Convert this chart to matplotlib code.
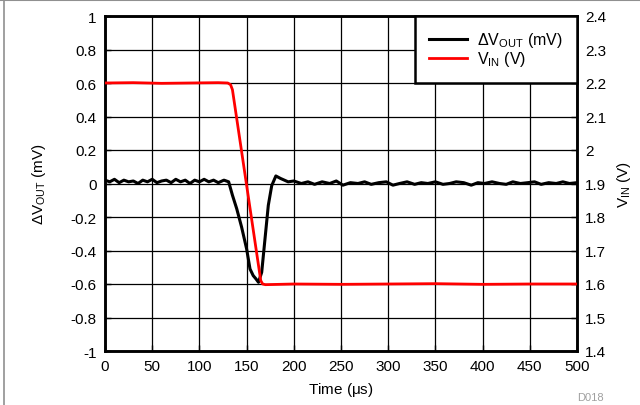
import matplotlib
matplotlib.use("Agg")
import matplotlib.pyplot as plt
from matplotlib.lines import Line2D
import numpy as np

plt.rcParams["font.family"] = ["Liberation Sans", "DejaVu Sans"]
plt.rcParams["mathtext.fontset"] = "custom"
plt.rcParams["mathtext.rm"] = "Liberation Sans"
plt.rcParams["mathtext.it"] = "Liberation Sans"

# ΔVOUT trace (mV)
t_out = [0, 5, 10, 15, 20, 25, 30, 35, 40, 45, 50, 55, 60, 65, 70, 75, 80, 85, 90, 95, 100,
         105, 110, 115, 120, 126, 131,
         135, 139.5, 144.7, 150, 153.6, 157, 160, 162.6, 166, 169.5, 173, 176.6, 181,
         186, 194, 200, 208, 215, 222, 230, 238, 245, 252, 260, 268, 275, 282, 290, 298,
         305, 312, 320, 328, 335, 342, 350, 358, 365, 372, 380, 388, 395, 402, 410, 418,
         425, 432, 440, 448, 455, 462, 470, 478, 485, 492, 500]
v_out = [0.02, 0.01, 0.025, 0.005, 0.02, 0.01, 0.015, 0.0, 0.02, 0.01, 0.025, 0.005, 0.015,
         0.02, 0.005, 0.025, 0.01, 0.02, 0.0, 0.02, 0.01, 0.025, 0.01, 0.02, 0.005, 0.02, 0.01,
         -0.07, -0.15, -0.26, -0.39, -0.51, -0.55, -0.57, -0.59, -0.53, -0.33, -0.13, -0.013, 0.045,
         0.03, 0.01, 0.015, 0.0, 0.01, -0.005, 0.01, 0.0, 0.015, -0.01, 0.005, 0.0, 0.01, -0.005,
         0.005, 0.01, -0.01, 0.0, 0.01, -0.005, 0.005, 0.0, 0.01, -0.005, 0.0, 0.01, 0.005, -0.01,
         0.005, 0.0, 0.01, 0.0, -0.005, 0.01, 0.0, 0.005, 0.01, -0.005, 0.005, 0.0, 0.01, 0.0, 0.005]

# VIN trace (V)
t_in = [0, 30, 60, 90, 120, 130, 133, 135, 165, 167, 170, 200, 250, 300, 350, 400, 450, 500]
v_in = [2.2, 2.201, 2.199, 2.2, 2.201, 2.2, 2.195, 2.18, 1.61, 1.6, 1.598, 1.6, 1.599, 1.6,
        1.601, 1.599, 1.6, 1.6]

fig = plt.figure(figsize=(6.4, 4.06), dpi=100)
ax = fig.add_axes([105 / 640, 1 - 352 / 406, 472 / 640, 335 / 406])
ax2 = ax.twinx()

l1, = ax.plot(t_out, v_out, color="black", lw=2.2, zorder=3)
l2, = ax2.plot(t_in, v_in, color="#ff0000", lw=2.0, zorder=3)

ax.set_xlim(0, 500)
ax.set_ylim(-1, 1)
ax2.set_ylim(1.4, 2.4)
ax.set_xticks(np.arange(0, 501, 50))
ax.set_yticks(np.arange(-1, 1.01, 0.2))
ax2.set_yticks(np.arange(1.4, 2.41, 0.1))
ax.set_yticklabels(["-1", "-0.8", "-0.6", "-0.4", "-0.2", "0", "0.2", "0.4", "0.6", "0.8", "1"])
ax2.set_yticklabels(["1.4", "1.5", "1.6", "1.7", "1.8", "1.9", "2", "2.1", "2.2", "2.3", "2.4"])

ax.grid(True, color="black", lw=0.9)
for a in (ax, ax2):
    a.tick_params(direction="in", length=4, labelsize=11, width=1, pad=6)
    for s in a.spines.values():
        s.set_linewidth(1.8)

ax.set_xlabel("Time ($\\mu$s)", fontsize=11, labelpad=5)
ax.set_ylabel("$\\Delta$V$_{\\mathrm{OUT}}$ (mV)", fontsize=11, labelpad=16)
ax2.set_ylabel("V$_{\\mathrm{IN}}$ (V)", fontsize=11, labelpad=6)

leg = ax2.legend([l1, l2], ["$\\Delta$V$_{\\mathrm{OUT}}$ (mV)", "V$_{\\mathrm{IN}}$ (V)"],
                 loc="upper right", fontsize=11.5, fancybox=False, framealpha=1,
                 edgecolor="black", borderaxespad=0, handlelength=2.4, labelspacing=0.0,
                 borderpad=0.9, handletextpad=0.6)
leg.get_frame().set_linewidth(1.8)

fig.text(590 / 640, 1 - 398 / 406, "D018", fontsize=8, color="#a0a0a0", ha="center", va="center")

# gray page frame
fig.add_artist(Line2D([0, 1], [0.997, 0.997], color="#909090", lw=1.5, transform=fig.transFigure))
fig.add_artist(Line2D([0.007, 0.007], [0, 1], color="#909090", lw=1.2, transform=fig.transFigure))

fig.savefig("out.png", dpi=100)
